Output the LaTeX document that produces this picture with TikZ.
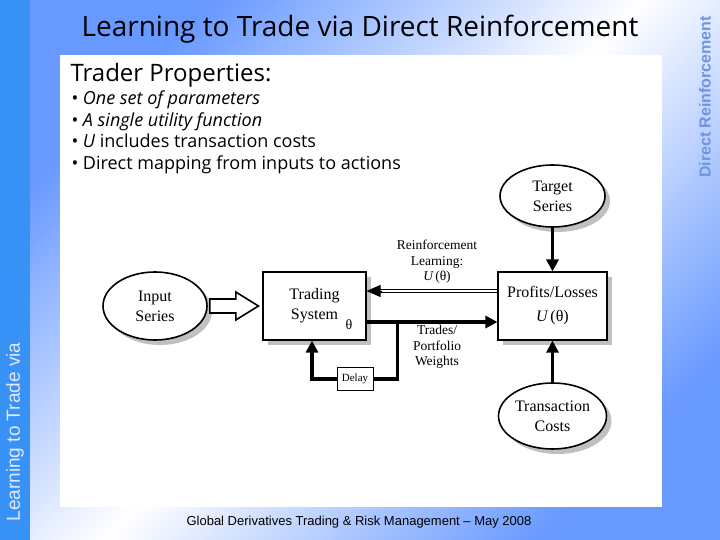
\documentclass[tikz,border=0pt]{standalone}
\usepackage{fontspec}
\setmainfont{Open Sans}
\newfontfamily\timesf{Liberation Serif}
\newfontfamily\arialf{Liberation Sans}
\usetikzlibrary{arrows.meta,shapes.geometric,shadows,calc}
\definecolor{stripblue}{RGB}{56,146,245}
\definecolor{bgblue}{RGB}{104,153,255}
\definecolor{sidetext}{RGB}{110,150,222}
\definecolor{striptext}{RGB}{228,232,255}
\definecolor{shadowgray}{RGB}{192,192,192}
\begin{document}
\begin{tikzpicture}[x=1pt,y=-1pt,
  lbl/.style={font=\timesf\fontsize{16}{20}\selectfont, align=center, text=black},
  smalllbl/.style={font=\timesf\fontsize{13.5}{15.5}\selectfont, align=center, text=black},
  shad/.style={drop shadow={shadow xshift=5pt, shadow yshift=-5pt, fill=shadowgray, opacity=1}},
  boxn/.style={draw, line width=1.1pt, fill=white, inner sep=0pt, shad, lbl},
  ell/.style={ellipse, draw, line width=1.6pt, fill=white, inner sep=0pt, shad, lbl},
  thickline/.style={line width=3.6pt},
  thickarrow/.style={line width=3.6pt, -{Triangle[length=12pt,width=12pt]}},
  hollow/.style={line width=1.6pt, fill=white, line join=miter},
  bullet/.style={anchor=base west, font=\fontsize{18}{22}\selectfont}
]
\useasboundingbox (0,0) rectangle (720,540);
% background
\shade[top color=bgblue, bottom color=bgblue, middle color=white, shading angle=45] (30,0) rectangle (720,540);
\fill[stripblue] (0,0) rectangle (30,540);
\fill[white] (60,55) rectangle (662,507);

% side texts
\node[rotate=90, font=\arialf\fontsize{19}{22}\selectfont, text=striptext] (lefttxt) at (15,432) {Learning to Trade via};
\node[rotate=90, font=\arialf\bfseries\fontsize{16}{19}\selectfont, text=sidetext] (righttxt) at (705,97) {Direct Reinforcement};

% title and bullets
\node[anchor=base west, font=\fontsize{28}{34}\selectfont] (title) at (78,37) {Learning to Trade via Direct Reinforcement};
\node[anchor=base west, font=\fontsize{24}{28}\selectfont] (props) at (67,82) {Trader Properties:};
\node[bullet] (b1) at (68,105) {• \itshape One set of parameters};
\node[bullet] (b2) at (68,127) {• \itshape A single utility function};
\node[bullet] (b3) at (68,148) {• {\itshape U} includes transaction costs};
\node[bullet] (b4) at (68,170) {• Direct mapping from inputs to actions};

% footer
\node[font=\arialf\fontsize{13}{15}\selectfont] (footer) at (359,522) {Global Derivatives Trading \& Risk Management – May 2008};

% diagram nodes
\node[ell, minimum width=104pt, minimum height=68pt] (inp) at (155,306) {Input\\Series};
\node[boxn, minimum width=103pt, minimum height=68pt] (ts) at (314.5,306) {Trading\\System};
\node[font=\timesf\fontsize{14}{16}\selectfont] (th) at (349,325) {θ};
\node[boxn, minimum width=109pt, minimum height=68pt, font=\timesf\fontsize{16}{24}\selectfont] (pl) at (552.5,306) {Profits/Losses\\{\itshape U}\,(θ)};
\node[ell, minimum width=105pt, minimum height=62pt] (tgt) at (552.5,196) {Target\\Series};
\node[ell, minimum width=108pt, minimum height=66pt] (tc) at (552.5,416) {Transaction\\Costs};
\node[draw, line width=0.9pt, fill=white, inner sep=0pt, minimum width=36pt, minimum height=23pt, font=\timesf\fontsize{11}{12}\selectfont] (dl) at (355,379) {Delay};

% labels
\node[smalllbl] (rl) at (437,262) {Reinforcement\\Learning:\\{\itshape U}\,(θ)};
\node[smalllbl] (tw) at (437,347) {Trades/\\Portfolio\\Weights};

% hollow arrow input -> trading system
\draw[hollow] ($(inp.east)+(2,-7)$) -- ++(26,0) -- ++(0,-7) -- ($(ts.west)+(-4,0)$) -- ($(inp.east)+(28,14)$) -- ++(0,-7) -- ++(-26,0) -- cycle;

% double arrow profits -> trading system
\draw[double, double distance=2.5pt, line width=0.8pt] ($(pl.west)+(0,-15)$) -- ($(ts.east)+(13,-15)$);
\draw[line width=0.8pt, -{Triangle[length=14pt,width=12pt]}] ($(ts.east)+(15,-15)$) -- ($(ts.east)+(0,-15)$);

% thick arrows
\draw[thickarrow] ($(ts.east)+(0,16)$) -- ($(pl.west)+(0,16)$);
\coordinate (br) at ($(ts.east)+(31,16)$);
\draw[thickline, line join=miter] (br) |- (dl.east);
\draw[thickarrow, line join=miter] (dl.west) -| ($(ts.south)+(-2.5,0)$);
\draw[thickarrow] (tgt.south) -- (pl.north);
\draw[thickarrow] (tc.north) -- (pl.south);
\end{tikzpicture}
\end{document}
